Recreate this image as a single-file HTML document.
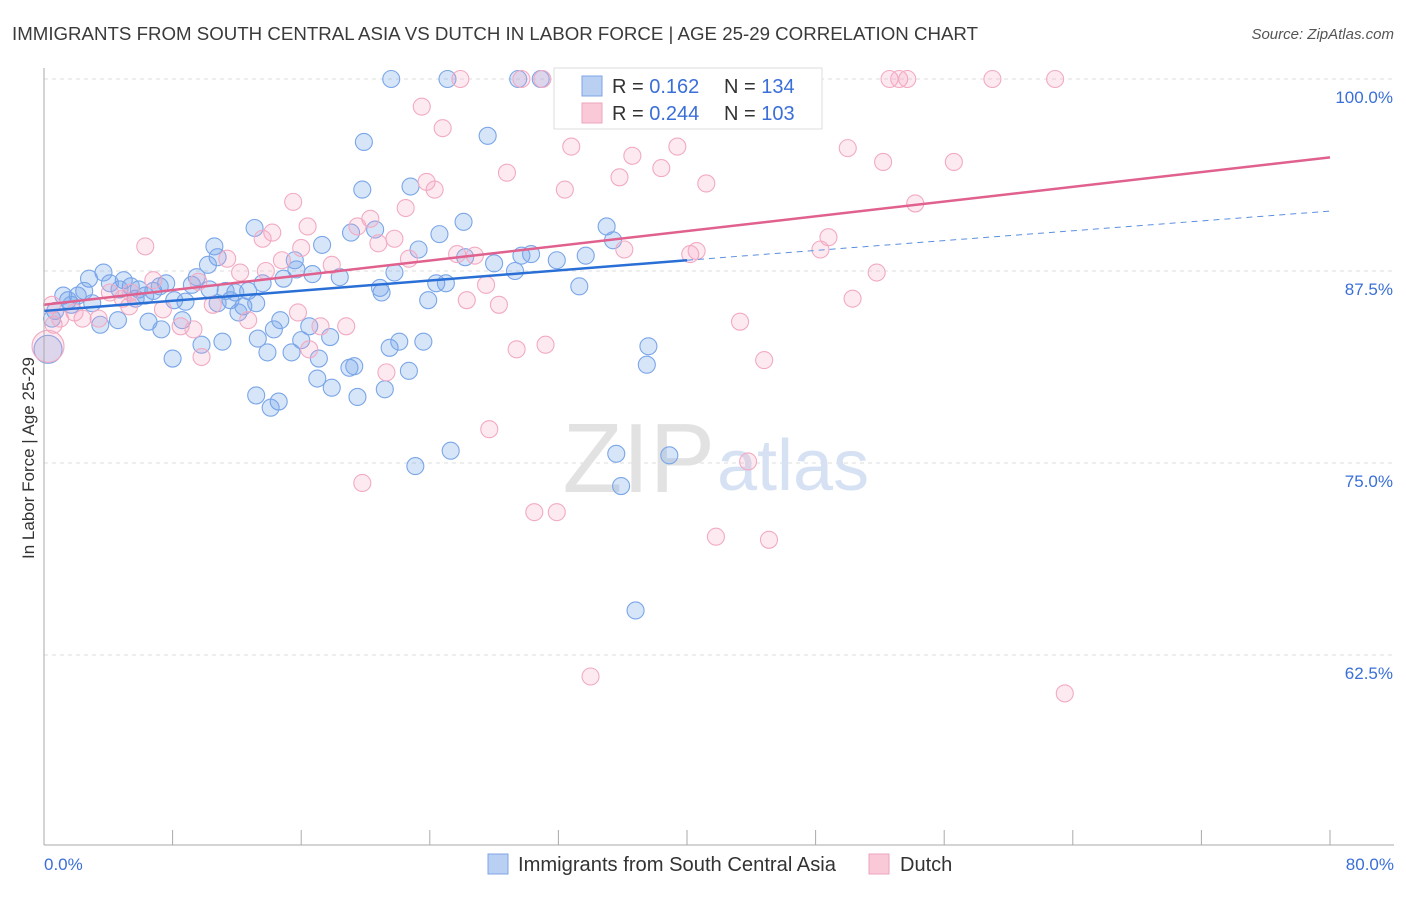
<!DOCTYPE html>
<html><head><meta charset="utf-8"><style>
body{margin:0;background:#fff;font-family:"Liberation Sans",sans-serif}
svg text{font-family:"Liberation Sans",sans-serif}
</style></head><body>
<svg width="1406" height="892" viewBox="0 0 1406 892" xmlns="http://www.w3.org/2000/svg" id="chart">
<text x="12" y="40" font-size="18" fill="#3a3a3a" textLength="966" lengthAdjust="spacingAndGlyphs">IMMIGRANTS FROM SOUTH CENTRAL ASIA VS DUTCH IN LABOR FORCE | AGE 25-29 CORRELATION CHART</text>
<text x="1394" y="39" font-size="15" fill="#555" font-style="italic" text-anchor="end">Source: ZipAtlas.com</text>
<g id="grid"></g>
<text x="715" y="492" font-size="98" fill="#e2e2e2" text-anchor="end" font-family="Liberation Serif">ZIP</text>
<text x="717" y="490" font-size="72" fill="#d6e2f3">atlas</text>
<g id="pts"></g>
<g id="lines"></g>
<line x1="44" y1="68" x2="44" y2="845" stroke="#aaa"/>
<line x1="44" y1="845" x2="1394" y2="845" stroke="#aaa"/>
<g id="ticks"></g>
<text transform="translate(34,458) rotate(-90)" font-size="17" fill="#333" text-anchor="middle">In Labor Force | Age 25-29</text>
<text x="44" y="870" font-size="17" fill="#3a6fd8">0.0%</text>
<text x="1394" y="870" font-size="17" fill="#3a6fd8" text-anchor="end">80.0%</text>
<g>
<rect x="554" y="68" width="268" height="61" fill="#fff" stroke="#ddd"/>
<rect x="582" y="76" width="20" height="20" fill="#b9d0f3" stroke="#7fa6e6"/>
<rect x="582" y="103" width="20" height="20" fill="#f9c9d8" stroke="#eea3bc"/>
<text x="612" y="93" font-size="20" fill="#333">R = <tspan fill="#3a6fd8">0.162</tspan></text>
<text x="724" y="93" font-size="20" fill="#333">N = <tspan fill="#3a6fd8">134</tspan></text>
<text x="612" y="120" font-size="20" fill="#333">R = <tspan fill="#3a6fd8">0.244</tspan></text>
<text x="724" y="120" font-size="20" fill="#333">N = <tspan fill="#3a6fd8">103</tspan></text>
</g>
<g>
<rect x="488" y="854" width="20" height="20" fill="#b9d0f3" stroke="#7fa6e6"/>
<text x="518" y="871" font-size="20" fill="#333" textLength="318" lengthAdjust="spacingAndGlyphs">Immigrants from South Central Asia</text>
<rect x="869" y="854" width="20" height="20" fill="#f9c9d8" stroke="#eea3bc"/>
<text x="900" y="871" font-size="20" fill="#333">Dutch</text>
</g>
</svg>
<script>
const yTicks=[100,87.5,75,62.5];
const yTickLabels=["100.0%","87.5%","75.0%","62.5%"];
const xTicks=[0,8,16,24,32,40,48,56,64,72,80];
const blueX=[21.6,25.1,29.5,30.9,27.6,19.9,19.8,22.8,26.1,13.1,19.1,20.6,24.6,17.3,10.6,23.3,29.7,30.3,31.9,33.7,35.0,35.4,28.0,26.2,10.8,10.2,15.6,15.7,16.7,18.4,21.8,29.3,24.4,25.0,20.9,21.0,33.3,23.9,14.9,13.6,12.7,11.9,11.6,12.4,12.1,10.8,10.3,9.5,8.8,8.1,7.6,6.8,7.2,6.3,5.9,5.4,4.96,4.7,4.1,3.7,2.8,2.5,2.1,1.5,1.2,0.7,0.5,0.25,1.7,3.0,3.5,6.5,7.3,8.6,8.0,9.8,11.1,13.3,13.9,14.3,14.7,15.4,16.0,16.5,17.1,17.8,17.0,17.9,19.0,19.3,19.5,21.2,21.5,22.1,22.7,23.6,13.2,14.6,14.1,23.1,25.3,35.6,35.9,38.9,37.6,37.5,36.8,4.6,5.7,9.2,13.2,11.3];
const blueY=[100,100,100,100,96.3,95.9,92.8,93.0,90.7,90.3,90.0,90.2,89.9,89.2,89.1,88.9,88.5,88.6,88.2,88.5,90.4,89.5,88.0,88.4,88.4,87.9,88.2,87.6,87.3,87.1,87.4,87.5,86.7,86.7,86.4,86.1,86.5,85.6,87.0,86.7,86.2,86.1,85.6,85.2,84.8,85.4,86.3,87.1,85.5,85.6,86.7,86.2,86.5,85.9,86.3,86.5,86.9,86.3,86.7,87.4,87.0,86.2,85.9,85.6,85.9,84.9,84.4,82.4,85.3,85.4,84.0,84.2,83.7,84.3,81.8,82.7,82.9,83.1,82.2,83.7,84.3,82.2,83.0,83.9,81.8,83.2,80.5,79.9,81.2,81.3,79.3,79.8,82.5,82.9,81.0,82.9,79.4,79.0,78.6,74.8,75.8,75.6,73.5,75.5,82.6,81.4,65.4,84.3,85.7,86.6,85.4,86.2];
const pinkX=[25.9,29.7,31.0,33.0,46.8,52.6,53.2,53.7,59.0,62.9,23.5,24.8,32.8,36.6,39.4,50.0,52.2,56.6,28.8,35.8,38.4,41.2,23.8,24.3,32.4,15.5,22.5,54.2,20.3,19.5,16.4,14.2,13.6,20.8,21.8,6.3,16.0,25.7,26.8,36.1,40.2,40.6,48.8,48.3,11.4,14.8,17.9,22.7,13.8,12.2,51.8,6.8,9.6,27.5,50.3,26.3,28.3,5.4,4.9,5.3,4.1,3.4,2.4,0.5,0.6,1.9,7.4,8.5,9.3,10.5,17.2,18.8,15.8,12.7,43.3,29.4,31.2,9.8,44.8,16.5,21.3,27.7,19.8,30.5,31.9,43.8,41.8,45.1,34.0,63.5,0.25,1.0];
const pinkY=[100,100,100,100,100,100,100,100,100,100,98.2,96.8,95.6,95.0,95.6,95.5,94.6,94.6,93.9,93.6,94.2,93.2,93.3,92.8,92.8,92.0,91.6,91.9,90.9,90.4,90.4,90.0,89.6,89.3,89.6,89.1,89.0,88.6,88.5,88.9,88.6,88.8,89.7,88.9,88.3,88.2,87.9,88.3,87.5,87.4,87.4,86.9,86.8,86.6,85.7,85.6,85.3,86.1,85.7,85.2,86.1,84.4,84.4,85.3,84.0,84.8,85.0,83.9,83.7,85.3,83.9,83.9,84.8,84.3,84.2,82.4,82.7,81.9,81.7,82.4,80.9,77.2,73.7,71.8,71.8,75.1,70.2,70.0,61.1,60.0,82.6,84.4];
const blueTrend=[[0,84.9],[40,88.2]];
const blueTrendDash=[[40,88.2],[80,91.4]];
const pinkTrend=[[0,85.3],[80,94.9]];
const NS="http://www.w3.org/2000/svg";
const X=v=>44+v*1286/80;
const Y=v=>79+(100-v)*15.36;
function mk(t,a,p){const e=document.createElementNS(NS,t);for(const k in a)e.setAttribute(k,a[k]);p.appendChild(e);return e;}
const grid=document.getElementById('grid'),ticks=document.getElementById('ticks');
yTicks.forEach((t,i)=>{
 const l=mk('line',{x1:44,x2:1394,y1:Y(t),y2:Y(t),stroke:'#ddd','stroke-dasharray':'4,4'},grid);
 
 
 const tx=mk('text',{x:1393,y:Y(t)+24,'font-size':17,fill:'#3a6fd8','text-anchor':'end'},ticks);
 tx.textContent=yTickLabels[i];
 
 
});
xTicks.forEach(t=>{
 const l=mk('line',{x1:X(t),x2:X(t),y1:830,y2:845,stroke:'#aaa'},ticks);
 
 
});
const pts=document.getElementById('pts');
blueX.forEach((x,i)=>{
 const r=(x<0.5)?14:8.5;
 const c=mk('circle',{cx:X(x),cy:Y(blueY[i]),r:r,fill:'rgba(110,160,235,0.28)',stroke:'#7aa6e8','stroke-width':1.1},pts);
 
 
});
pinkX.forEach((x,i)=>{
 const r=(x<0.5&&pinkY[i]<83)?16:8.5;
 const c=mk('circle',{cx:X(x),cy:Y(pinkY[i]),r:r,fill:'rgba(245,160,190,0.22)',stroke:'#f2aac2','stroke-width':1.1},pts);
 
 
});
const lines=document.getElementById('lines');
const b=mk('line',{x1:X(blueTrend[0][0]),y1:Y(blueTrend[0][1]),x2:X(blueTrend[1][0]),y2:Y(blueTrend[1][1]),stroke:'#2a6fd6','stroke-width':2.5},lines);


const bd=mk('line',{x1:X(blueTrendDash[0][0]),y1:Y(blueTrendDash[0][1]),x2:X(blueTrendDash[1][0]),y2:Y(blueTrendDash[1][1]),stroke:'#5b8fe0','stroke-width':1,'stroke-dasharray':'6,5'},lines);


const p=mk('line',{x1:X(pinkTrend[0][0]),y1:Y(pinkTrend[0][1]),x2:X(pinkTrend[1][0]),y2:Y(pinkTrend[1][1]),stroke:'#e0608e','stroke-width':2.5},lines);


</script>
</body></html>
